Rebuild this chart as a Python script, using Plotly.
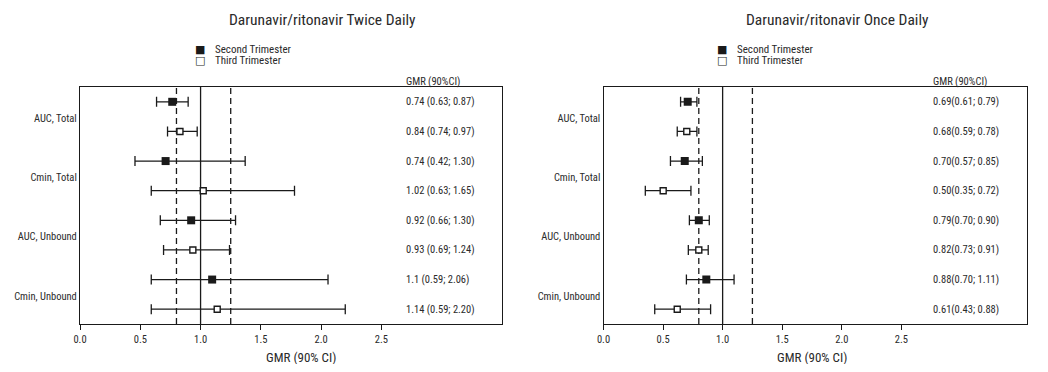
import plotly.graph_objects as go

# ---------------- data ----------------
measures = ["AUC, Total", "Cmin, Total", "AUC, Unbound", "Cmin, Unbound"]
trimesters = ["Second Trimester", "Third Trimester"]
tick_vals = [0.0, 0.5, 1.0, 1.5, 2.0, 2.5]
tick_text = ["0.0", "0.5", "1.0", "1.5", "2.0", "2.5"]
ref_lines = [0.8, 1.0, 1.25]
ref_dash = ["dashed", "solid", "dashed"]

# Darunavir/ritonavir twice daily (positions as drawn)
bid_second_est = [0.765, 0.71, 0.922, 1.096]
bid_second_lo = [0.635, 0.456, 0.666, 0.591]
bid_second_hi = [0.897, 1.37, 1.29, 2.057]
bid_third_est = [0.829, 1.022, 0.936, 1.138]
bid_third_lo = [0.726, 0.591, 0.693, 0.591]
bid_third_hi = [0.972, 1.779, 1.24, 2.2]
bid_labels = ["0.74 (0.63; 0.87)", "0.84 (0.74; 0.97)", "0.74 (0.42; 1.30)",
              "1.02 (0.63; 1.65)", "0.92 (0.66; 1.30)", "0.93 (0.69; 1.24)",
              "1.1 (0.59; 2.06)", "1.14 (0.59; 2.20)"]

# Darunavir/ritonavir once daily (positions as drawn)
qd_second_est = [0.707, 0.682, 0.80, 0.863]
qd_second_lo = [0.647, 0.562, 0.721, 0.696]
qd_second_hi = [0.784, 0.83, 0.888, 1.096]
qd_third_est = [0.699, 0.501, 0.80, 0.619]
qd_third_lo = [0.619, 0.351, 0.712, 0.43]
qd_third_hi = [0.784, 0.734, 0.879, 0.899]
qd_labels = ["0.69(0.61; 0.79)", "0.68(0.59; 0.78)", "0.70(0.57; 0.85)",
             "0.50(0.35; 0.72)", "0.79(0.70; 0.90)", "0.82(0.73; 0.91)",
             "0.88(0.70; 1.11)", "0.61(0.43; 0.88)"]

# ---------------- style ----------------
OFF = 8                      # page body margin
W, H = 1048 - 2 * OFF, 372 - 2 * OFF
FONT = "Liberation Sans Narrow, Arial Narrow, Roboto Condensed, Liberation Sans, Arial, sans-serif"
TXT = "#2a2a2a"
INK = "#1a1a1a"


def px_x(px):
    return (px - OFF) / W


def px_y(py):
    return 1 - (py - OFF) / H


panels = [
    dict(title="Darunavir/ritonavir Twice Daily", title_x=322,
         dom=(80, 502), rng=[0, 3.5], text_px=404, axtitle_x=301,
         leg_x=200, est=(bid_second_est, bid_third_est),
         lo=(bid_second_lo, bid_third_lo), hi=(bid_second_hi, bid_third_hi),
         labels=bid_labels),
    dict(title="Darunavir/ritonavir Once Daily", title_x=837,
         dom=(603.5, 1027), rng=[0, 3.555], text_px=931, axtitle_x=812,
         leg_x=722, est=(qd_second_est, qd_third_est),
         lo=(qd_second_lo, qd_third_lo), hi=(qd_second_hi, qd_third_hi),
         labels=qd_labels),
]

Y_TOP, Y_BOT = 87, 324

fig = go.Figure()
annotations = []
shapes = []

for p_i, p in enumerate(panels):
    ax = "" if p_i == 0 else str(p_i + 1)
    xa, ya = "x" + ax, "y" + ax
    d0, d1 = p["dom"]
    text_x = p["rng"][0] + (p["text_px"] - d0) / (d1 - d0) * (p["rng"][1] - p["rng"][0])
    for t_i, trim in enumerate(trimesters):
        est = p["est"][t_i]
        lo = p["lo"][t_i]
        hi = p["hi"][t_i]
        rows = [2 * m + 1 + t_i for m in range(len(measures))]
        if t_i == 0:
            marker = dict(symbol="square", size=8, color=INK, line=dict(width=0))
        else:
            marker = dict(symbol="square", size=6, color="white",
                          line=dict(color=INK, width=1.4))
        fig.add_trace(go.Scatter(
            x=est, y=rows, mode="markers", name=trim, showlegend=False,
            marker=marker, xaxis=xa, yaxis=ya,
            error_x=dict(type="data", symmetric=False,
                         array=[h - e for h, e in zip(hi, est)],
                         arrayminus=[e - l for e, l in zip(est, lo)],
                         color=INK, thickness=1.3, width=5),
        ))
    # GMR text column
    for r_i, lab in enumerate(p["labels"]):
        annotations.append(dict(text=lab, xref=xa, yref=ya, x=text_x, y=r_i + 1,
                                xanchor="left", yanchor="middle", showarrow=False,
                                font=dict(family=FONT, size=10.5, color=TXT)))
    # reference lines
    for v, d in zip(ref_lines, ref_dash):
        shapes.append(dict(type="line", xref=xa, yref=ya + " domain",
                           x0=v, x1=v, y0=0, y1=1, layer="below",
                           line=dict(color=INK, width=1.3,
                                     dash="solid" if d == "solid" else "6px,4px")))
    # header
    annotations.append(dict(text="GMR (90%CI)", xref=xa, yref="paper",
                            x=text_x, y=px_y(81), xanchor="left",
                            yanchor="middle", showarrow=False,
                            font=dict(family=FONT, size=10.5, color=TXT)))
    # title
    annotations.append(dict(text=p["title"], xref="paper", yref="paper",
                            x=px_x(p["title_x"]), y=px_y(20), xanchor="center",
                            yanchor="middle", showarrow=False,
                            font=dict(family=FONT, size=15.5, color=TXT)))
    # axis title
    annotations.append(dict(text="GMR (90% CI)", xref="paper", yref="paper",
                            x=px_x(p["axtitle_x"]), y=px_y(357), xanchor="center",
                            yanchor="middle", showarrow=False,
                            font=dict(family=FONT, size=13, color=TXT)))
    # legend
    for t_i, (trim, glyph) in enumerate(zip(trimesters, ["\u25A0", "\u25A1"])):
        yy = px_y(49 + 12 * t_i)
        annotations.append(dict(text=glyph, xref="paper", yref="paper",
                                x=px_x(p["leg_x"]), y=yy, xanchor="center",
                                yanchor="middle", showarrow=False,
                                font=dict(family="DejaVu Sans", size=11, color=INK)))
        annotations.append(dict(text=trim, xref="paper", yref="paper",
                                x=px_x(p["leg_x"] + 13), y=yy, xanchor="left",
                                yanchor="middle", showarrow=False,
                                font=dict(family=FONT, size=11, color=TXT)))

    axis_common = dict(showline=True, mirror=True, linecolor=INK, linewidth=1.2,
                       showgrid=False, zeroline=False)
    fig.layout["xaxis" + ax] = dict(
        domain=[px_x(d0), px_x(d1)], range=p["rng"],
        anchor=ya, tickvals=tick_vals, ticktext=tick_text,
        ticks="outside", ticklen=5, tickwidth=1.2, tickcolor=INK,
        tickfont=dict(family=FONT, size=10.5, color=TXT), **axis_common)
    fig.layout["yaxis" + ax] = dict(
        domain=[px_y(Y_BOT), px_y(Y_TOP)], range=[8.5, 0.5],
        anchor=xa, tickvals=[2 * m + 1.55 for m in range(len(measures))],
        ticktext=measures, ticks="", ticklabelstandoff=0,
        tickfont=dict(family=FONT, size=10.5, color=TXT), **axis_common)

fig.update_layout(
    width=W, height=H, autosize=False,
    margin=dict(l=0, r=0, t=0, b=0, autoexpand=False),
    paper_bgcolor="white", plot_bgcolor="white",
    showlegend=False, annotations=annotations, shapes=shapes,
)

fig.write_html("out.html")
